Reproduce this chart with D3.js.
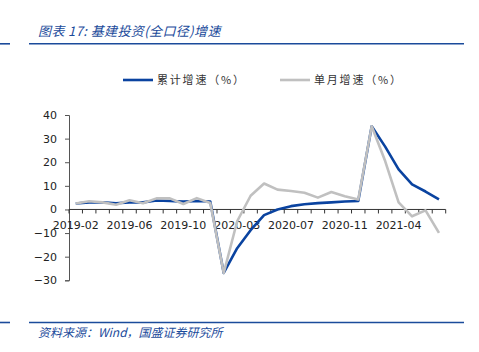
<!DOCTYPE html>
<html>
<head>
<meta charset="utf-8">
<style>
  body { margin: 0; background: #fff; }
  svg text { font-family: "DejaVu Sans", sans-serif; }
  .cjk { font-family: "Noto Sans CJK SC", sans-serif; }
</style>
</head>
<body>
<svg width="479" height="352"></svg>
<script src="https://d3js.org/d3.v7.min.js"></script>
<script>
  // months shown on the x axis (no January data)
  const months = ["2019-02","2019-03","2019-04","2019-05","2019-06","2019-07","2019-08","2019-09","2019-10","2019-11","2019-12",
    "2020-02","2020-03","2020-04","2020-05","2020-06","2020-07","2020-08","2020-09","2020-10","2020-11","2020-12",
    "2021-02","2021-03","2021-04","2021-05","2021-06","2021-07"];
  const tickLabels = ["2019-02","2019-06","2019-10","2020-03","2020-07","2020-11","2021-04"];
  const yTicks = [-30, -20, -10, 0, 10, 20, 30, 40];

  // 累计增速
  const cumulative = [2.5, 3.0, 3.0, 2.6, 3.0, 3.0, 3.8, 3.6, 3.3, 3.6, 3.4,
    -26.9, -16.4, -8.8, -2.4, 0.0, 1.4, 2.2, 2.7, 3.0, 3.4, 3.6,
    35.2, 26.6, 17.0, 10.6, 7.6, 4.3];
  // 单月增速
  const monthly = [2.5, 3.5, 3.0, 2.0, 3.9, 2.6, 4.7, 4.7, 2.3, 4.8, 2.7,
    -26.9, -5.0, 5.8, 11.0, 8.4, 7.8, 7.1, 5.0, 7.4, 5.6, 4.2,
    35.2, 20.5, 3.0, -2.9, -0.4, -9.9];

  const blue = "#0a43a0", grey = "#c0c0c0", navy = "#1b4b9b";
  const svg = d3.select("svg");

  // title and rules
  svg.append("text").attr("class", "cjk").attr("x", 38).attr("y", 36)
    .attr("font-size", 13).attr("font-style", "italic").attr("fill", navy)
    .attr("letter-spacing", 0.4)
    .text("图表 17:  基建投资(全口径)增速");
  [43.8, 322.5].forEach(y => {
    svg.append("line").attr("x1", 0).attr("x2", 10).attr("y1", y).attr("y2", y)
      .attr("stroke", navy).attr("stroke-width", 1.6);
    svg.append("line").attr("x1", 29).attr("x2", 464).attr("y1", y).attr("y2", y)
      .attr("stroke", navy).attr("stroke-width", 1.6);
  });
  svg.append("text").attr("class", "cjk").attr("x", 38).attr("y", 337)
    .attr("font-size", 12).attr("font-style", "italic").attr("fill", navy)
    .text("资料来源：Wind，国盛证券研究所");

  // scales
  const x = d3.scaleBand().domain(months).range([69, 445.7]);
  const y = d3.scaleLinear().domain([-30, 40]).range([280.3, 115]);
  const cx = m => x(m) + x.bandwidth() / 2;

  // y axis
  const yAxis = svg.append("g").attr("transform", "translate(69,0)")
    .call(d3.axisLeft(y).tickValues(yTicks).tickSize(4).tickPadding(8));
  yAxis.select(".domain").attr("stroke", "#555");
  yAxis.selectAll(".tick line").attr("stroke", "#555");
  yAxis.selectAll("text").attr("font-size", 11).attr("fill", "#222")
    .attr("font-family", "DejaVu Sans");

  // x axis at zero with ticks at category boundaries
  const xg = svg.append("g").attr("transform", `translate(0,${y(0)})`);
  xg.append("line").attr("x1", 69).attr("x2", 445.7).attr("stroke", "#333");
  xg.selectAll(".bt").data(months.concat(["end"])).enter().append("line")
    .attr("x1", (d, i) => i < months.length ? x(d) : x.range()[1])
    .attr("x2", (d, i) => i < months.length ? x(d) : x.range()[1])
    .attr("y1", 0).attr("y2", 4).attr("stroke", "#333");
  xg.selectAll(".lb").data(tickLabels).enter().append("text")
    .attr("x", d => cx(d)).attr("y", 20).attr("text-anchor", "middle")
    .attr("font-size", 11).attr("fill", "#222").text(d => d);

  // lines: cumulative first, monthly drawn on top
  const line = d3.line().x((d, i) => cx(months[i])).y(d => y(d));
  svg.append("path").datum(cumulative).attr("d", line).attr("fill", "none")
    .attr("stroke", blue).attr("stroke-width", 2.6).attr("stroke-linejoin", "round");
  svg.append("path").datum(monthly).attr("d", line).attr("fill", "none")
    .attr("stroke", grey).attr("stroke-width", 2.6).attr("stroke-linejoin", "round");

  // legend
  const legend = [
    { label: "累计增速（%）", color: blue, x: 123 },
    { label: "单月增速（%）", color: grey, x: 280 }
  ];
  const lg = svg.selectAll(".leg").data(legend).enter().append("g");
  lg.append("line").attr("x1", d => d.x).attr("x2", d => d.x + 30)
    .attr("y1", 80).attr("y2", 80).attr("stroke", d => d.color).attr("stroke-width", 2.6);
  lg.append("text").attr("class", "cjk").attr("x", d => d.x + 34).attr("y", 84)
    .attr("font-size", 11).attr("fill", "#333").attr("letter-spacing", 1.8).text(d => d.label);
</script>
</body>
</html>
